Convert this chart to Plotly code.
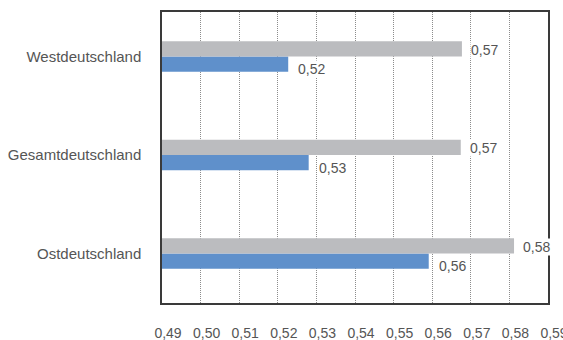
import plotly.graph_objects as go

# Regions, bottom to top on the category axis
regions = ["Ostdeutschland", "Gesamtdeutschland", "Westdeutschland"]

# Two series per region (values on a 0.49–0.59 scale)
blue_values = [0.5591, 0.5280, 0.5227]
grey_values = [0.5812, 0.5674, 0.5677]

x_ticks = [0.49, 0.50, 0.51, 0.52, 0.53, 0.54, 0.55, 0.56, 0.57, 0.58, 0.59]

FONT = "Liberation Sans, Arial, sans-serif"
TEXT_COLOR = "#555555"
BARGAP = 0.69

fig = go.Figure()

fig.add_trace(go.Bar(
    y=regions, x=blue_values, orientation="h",
    marker=dict(color="#5F90CB", line=dict(width=0)),
    showlegend=False,
))
fig.add_trace(go.Bar(
    y=regions, x=grey_values, orientation="h",
    marker=dict(color="#BBBCBF", line=dict(width=0)),
    showlegend=False,
))

# Value labels placed just past the end of each bar
half_bar = (1 - BARGAP) / 4  # centre offset of each bar within its group
annotations = []
for i, (b, g) in enumerate(zip(blue_values, grey_values)):
    for val, off, dx, dy in ((b, -half_bar, 9, -5), (g, half_bar, 8, -1)):
        annotations.append(dict(
            x=val, y=i + off, xref="x", yref="y",
            text=f"{val:.2f}".replace(".", ","),
            showarrow=False, xanchor="left", yanchor="middle",
            xshift=dx, yshift=dy, bgcolor="white", borderpad=0,
            font=dict(family=FONT, size=14, color=TEXT_COLOR),
        ))

fig.update_layout(
    width=563, height=340,
    margin=dict(l=162, r=15, t=12, b=37, autoexpand=False),
    paper_bgcolor="white", plot_bgcolor="white",
    barmode="group", bargap=BARGAP, bargroupgap=0,
    separators=",.",
    font=dict(family=FONT, size=14, color=TEXT_COLOR),
    annotations=annotations,
)

fig.update_xaxes(
    range=[0.49, 0.59], tickvals=x_ticks, tickformat=".2f",
    showgrid=True, gridcolor="#8c8c8c", gridwidth=1, griddash="1px,1px",
    zeroline=False, automargin=False,
    showline=True, linecolor="#3a3a3a", linewidth=1.5, mirror=True,
    ticks="", tickfont=dict(family=FONT, size=14, color=TEXT_COLOR),
    ticklabelstandoff=16, ticklabelshift=6, ticklabeloverflow="allow",
)

fig.update_yaxes(
    range=[-0.503, 2.452], categoryorder="array", categoryarray=regions,
    showgrid=False, zeroline=False, automargin=False,
    showline=True, linecolor="#3a3a3a", linewidth=1.5, mirror=True,
    ticks="", tickfont=dict(family=FONT, size=15, color=TEXT_COLOR),
    ticklabelstandoff=16,
)

fig.write_html("out.html")
